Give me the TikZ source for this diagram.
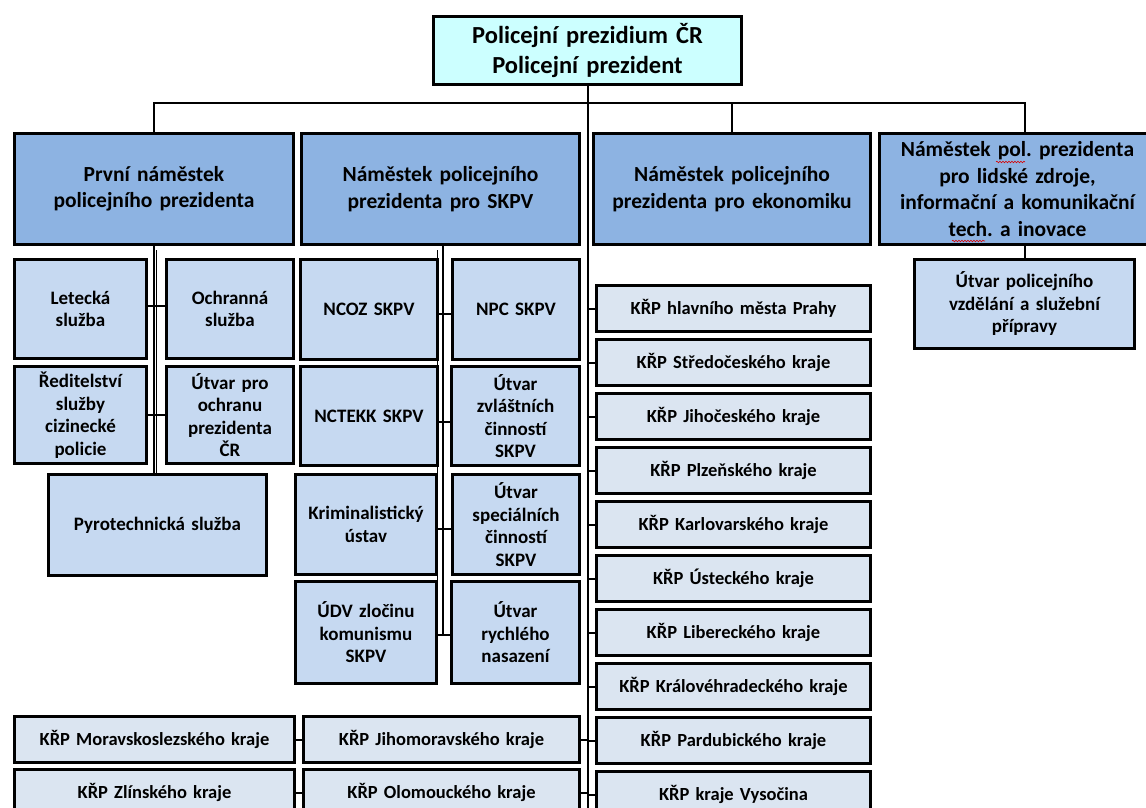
\documentclass[tikz,border=0pt]{standalone}
\usepackage{fontspec}
\setmainfont{Carlito}[WordSpace=0.75]
\frenchspacing
\usetikzlibrary{decorations.pathmorphing}
\definecolor{topfill}{HTML}{CCFFFF}
\definecolor{depfill}{HTML}{8DB3E2}
\definecolor{subfill}{HTML}{C6D9F1}
\definecolor{krpfill}{HTML}{DBE5F1}
\tikzset{
  base/.style={draw=black, line width=3pt, inner sep=0pt, align=center, font=\bfseries},
  topbox/.style={base, fill=topfill, font=\bfseries\fontsize{24.5}{30}\selectfont},
  depbox/.style={base, fill=depfill, font=\bfseries\fontsize{21.5}{26.5}\selectfont},
  subbox/.style={base, fill=subfill, font=\bfseries\fontsize{19}{22.5}\selectfont},
  krpbox/.style={base, fill=krpfill, font=\bfseries\fontsize{18.5}{20}\selectfont},
  conn/.style={draw=black, line width=2pt},
  thin/.style={draw=black, line width=1.4pt},
  squig/.style={draw=red!85!black, line width=0.6pt, decorate, decoration={snake, amplitude=0.8pt, segment length=3pt}}
}
\newcommand{\orgbox}[7]{%
  \pgfmathsetmacro\obw{#4-#2}\pgfmathsetmacro\obh{#5-#3}\pgfmathsetmacro\obt{#4-#2-6}%
  \node[#1, minimum width=\obw pt, minimum height=\obh pt, text width=\obt pt, anchor=north west] (#6) at (#2,#3) {#7};}
\begin{document}
\begin{tikzpicture}[x=1pt,y=-1pt]
\clip (0,0) rectangle (1146,807);
\fill[white] (0,0) rectangle (1146,807);
\coordinate (bus) at (0,103);
\coordinate (c2) at (443,0);
\coordinate (c2b) at (437.5,250);
\coordinate (c1b) at (156.5,250);
\coordinate (bot) at (0,812);

% top
\orgbox{topbox}{432}{15}{740}{83}{top}{Policejní prezidium ČR\\Policejní prezident}

% deputies
\orgbox{depbox}{13}{132}{292}{243}{d1}{První náměstek\\policejního prezidenta}
\orgbox{depbox}{300}{132}{578}{243}{d2}{Náměstek policejního\\prezidenta pro SKPV}
\orgbox{depbox}{592}{132}{869}{243}{d3}{Náměstek policejního\\prezidenta pro ekonomiku}
\orgbox{depbox}{878}{132}{1154}{243}{d4}{Náměstek pol. prezidenta\\pro lidské zdroje,\\informační a komunikační\\tech. a inovace}

% first deputy units
\orgbox{subbox}{13}{258}{145}{357}{let}{Letecká\\služba}
\orgbox{subbox}{165}{258}{292}{357}{och}{Ochranná\\služba}
\orgbox{subbox}{13}{365}{145}{462}{red}{Ředitelství\\služby\\cizinecké\\policie}
\orgbox{subbox}{165}{365}{292}{462}{upo}{Útvar pro\\ochranu\\prezidenta\\ČR}
\orgbox{subbox}{47}{473}{265}{574}{pyro}{Pyrotechnická služba}

% SKPV units
\orgbox{subbox}{299}{258}{436}{358}{ncoz}{NCOZ SKPV}
\orgbox{subbox}{451}{258}{578}{358}{npc}{NPC SKPV}
\orgbox{subbox}{299}{365}{436}{464}{nctekk}{NCTEKK SKPV}
\orgbox{subbox}{450}{365}{578}{464}{uzc}{Útvar\\zvláštních\\činností\\SKPV}
\orgbox{subbox}{294}{473}{435}{573}{kri}{Kriminalistický\\ústav}
\orgbox{subbox}{451}{473}{578}{573}{usc}{Útvar\\speciálních\\činností\\SKPV}
\orgbox{subbox}{294}{580}{435}{682}{udv}{ÚDV zločinu\\komunismu\\SKPV}
\orgbox{subbox}{450}{580}{578}{682}{urn}{Útvar\\rychlého\\nasazení}

% HR unit
\orgbox{subbox}{913}{258}{1133}{347}{utvp}{Útvar policejního\\vzdělání a služební\\přípravy}

% KRP right column
\orgbox{krpbox}{595}{284}{869}{330}{k1}{KŘP hlavního města Prahy}
\orgbox{krpbox}{595}{338}{869}{384}{k2}{KŘP Středočeského kraje}
\orgbox{krpbox}{595}{392}{869}{438}{k3}{KŘP Jihočeského kraje}
\orgbox{krpbox}{595}{446}{869}{492}{k4}{KŘP Plzeňského kraje}
\orgbox{krpbox}{595}{500}{869}{546}{k5}{KŘP Karlovarského kraje}
\orgbox{krpbox}{595}{554}{869}{600}{k6}{KŘP Ústeckého kraje}
\orgbox{krpbox}{595}{608}{869}{654}{k7}{KŘP Libereckého kraje}
\orgbox{krpbox}{595}{662}{869}{708}{k8}{KŘP Královéhradeckého kraje}
\orgbox{krpbox}{595}{716}{869}{762}{k9}{KŘP Pardubického kraje}
\orgbox{krpbox}{595}{770}{869}{816}{k10}{KŘP kraje Vysočina}

% KRP bottom left
\orgbox{krpbox}{13}{715}{293}{761}{ms}{KŘP Moravskoslezského kraje}
\orgbox{krpbox}{302}{715}{578}{761}{jm}{KŘP Jihomoravského kraje}
\orgbox{krpbox}{13}{768}{293}{814}{zl}{KŘP Zlínského kraje}
\orgbox{krpbox}{302}{768}{578}{814}{ol}{KŘP Olomouckého kraje}

% connectors: top level
\draw[conn] (top.south) -- (top.south |- bot);
\draw[conn] (d1.north) -- (d1.north |- bus) -- (utvp.north |- bus) -- (utvp.north |- d4.north);
\draw[conn] (d3.north) -- (d3.north |- bus);
\draw[conn] (utvp.north |- d4.south) -- (utvp.north);

% first deputy column (double spine)
\draw[thin] (d1.south) -- (d1.south |- pyro.north);
\draw[thin] (c1b) -- (c1b |- pyro.north);
\draw[conn] ([yshift=3.5pt]let.east) -- ([yshift=3.5pt]let.east -| och.west);
\draw[conn] (red.east) -- (red.east -| upo.west);

% SKPV column (double spine)
\coordinate (udvtick) at ([yshift=-2pt]udv.east);
\draw[thin] (d2.south -| c2) -- (c2 |- udvtick);
\draw[thin] (c2b) -- (c2b |- udvtick);
\draw[conn] ([yshift=-4pt]ncoz.east) -- ([yshift=-4pt]ncoz.east -| npc.west);
\draw[conn] ([yshift=-5.5pt]nctekk.east) -- ([yshift=-5.5pt]nctekk.east -| uzc.west);
\draw[conn] ([yshift=-4pt]kri.east) -- ([yshift=-4pt]kri.east -| usc.west);
\draw[conn] (udvtick) -- (udvtick -| urn.west);

% regional directorates
\foreach \k in {k1,k2,k3,k4,k5,k6,k7,k8,k9,k10}{
  \draw[conn] (\k.west) -- (\k.west -| top.south);
}
\draw[conn] (ms.east) -- (jm.west);
\draw[conn] (jm.east) -- (jm.east -| top.south);
\draw[conn] (zl.east) -- (ol.west);
\draw[conn] (ol.east) -- (ol.east -| top.south);

% spell-check squiggles
\draw[squig] (996,162) -- (1025,162);
\draw[squig] (952,241) -- (985,241);
\end{tikzpicture}
\end{document}
